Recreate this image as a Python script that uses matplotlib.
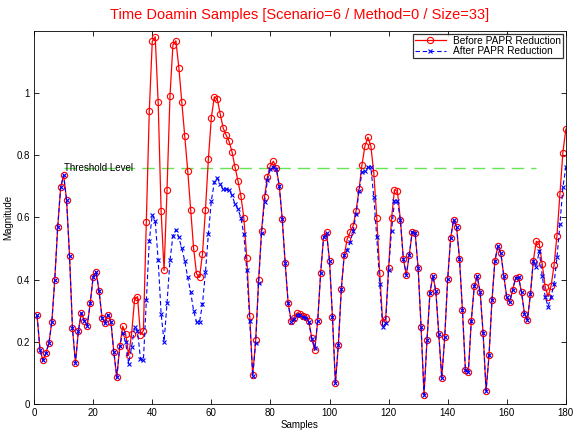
import matplotlib
matplotlib.use("Agg")
import matplotlib.pyplot as plt
from matplotlib.ticker import FuncFormatter

plt.rcParams['font.family'] = ['Liberation Sans', 'DejaVu Sans']

# sample magnitudes, samples 1..180
before = [
    0.285, 0.175, 0.140, 0.164, 0.195, 0.263, 0.400, 0.570, 0.696, 0.736,
    0.655, 0.475, 0.243, 0.132, 0.236, 0.292, 0.268, 0.252, 0.324, 0.409,
    0.425, 0.362, 0.277, 0.260, 0.287, 0.265, 0.166, 0.086, 0.185, 0.250,
    0.225, 0.156, 0.225, 0.334, 0.345, 0.223, 0.236, 0.584, 0.942, 1.165,
    1.180, 0.969, 0.619, 0.429, 0.688, 0.990, 1.154, 1.167, 1.081, 0.969,
    0.860, 0.750, 0.623, 0.500, 0.418, 0.407, 0.482, 0.623, 0.787, 0.920,
    0.987, 0.980, 0.932, 0.887, 0.864, 0.844, 0.810, 0.762, 0.717, 0.669,
    0.598, 0.468, 0.284, 0.092, 0.204, 0.398, 0.557, 0.666, 0.730, 0.766,
    0.780, 0.758, 0.701, 0.594, 0.452, 0.324, 0.268, 0.277, 0.292, 0.290,
    0.284, 0.281, 0.266, 0.212, 0.172, 0.266, 0.421, 0.536, 0.552, 0.461,
    0.279, 0.067, 0.191, 0.370, 0.480, 0.530, 0.552, 0.573, 0.621, 0.690,
    0.769, 0.829, 0.857, 0.829, 0.741, 0.598, 0.421, 0.263, 0.273, 0.436,
    0.597, 0.688, 0.683, 0.591, 0.466, 0.415, 0.479, 0.554, 0.548, 0.437,
    0.247, 0.030, 0.205, 0.358, 0.412, 0.362, 0.225, 0.084, 0.214, 0.401,
    0.533, 0.592, 0.570, 0.466, 0.302, 0.110, 0.103, 0.268, 0.378, 0.410,
    0.359, 0.227, 0.043, 0.156, 0.334, 0.461, 0.507, 0.484, 0.412, 0.343,
    0.327, 0.367, 0.405, 0.407, 0.359, 0.290, 0.270, 0.352, 0.461, 0.523,
    0.514, 0.450, 0.377, 0.345, 0.379, 0.445, 0.541, 0.675, 0.808, 0.883,
]

after = [
    0.285, 0.175, 0.140, 0.164, 0.195, 0.263, 0.400, 0.570, 0.696, 0.736,
    0.655, 0.475, 0.243, 0.132, 0.236, 0.292, 0.268, 0.252, 0.324, 0.409,
    0.425, 0.362, 0.277, 0.260, 0.287, 0.265, 0.166, 0.086, 0.185, 0.228,
    0.198, 0.130, 0.182, 0.247, 0.236, 0.146, 0.140, 0.335, 0.525, 0.608,
    0.589, 0.462, 0.290, 0.200, 0.325, 0.462, 0.540, 0.560, 0.535, 0.500,
    0.460, 0.407, 0.359, 0.300, 0.263, 0.263, 0.322, 0.423, 0.546, 0.653,
    0.712, 0.726, 0.707, 0.690, 0.690, 0.688, 0.670, 0.643, 0.627, 0.598,
    0.545, 0.430, 0.268, 0.090, 0.195, 0.390, 0.550, 0.648, 0.720, 0.755,
    0.762, 0.755, 0.700, 0.594, 0.452, 0.324, 0.265, 0.272, 0.287, 0.285,
    0.280, 0.277, 0.262, 0.210, 0.180, 0.266, 0.421, 0.536, 0.548, 0.461,
    0.279, 0.067, 0.191, 0.370, 0.480, 0.495, 0.519, 0.557, 0.610, 0.685,
    0.744, 0.750, 0.760, 0.760, 0.664, 0.535, 0.386, 0.247, 0.260, 0.430,
    0.557, 0.653, 0.653, 0.590, 0.466, 0.415, 0.479, 0.554, 0.548, 0.437,
    0.247, 0.030, 0.205, 0.358, 0.412, 0.362, 0.225, 0.084, 0.214, 0.401,
    0.533, 0.592, 0.570, 0.466, 0.302, 0.110, 0.103, 0.268, 0.378, 0.410,
    0.359, 0.227, 0.043, 0.156, 0.334, 0.461, 0.507, 0.484, 0.412, 0.343,
    0.327, 0.367, 0.405, 0.407, 0.359, 0.290, 0.270, 0.352, 0.461, 0.440,
    0.493, 0.412, 0.345, 0.313, 0.345, 0.386, 0.471, 0.578, 0.696, 0.760,
]

samples = list(range(1, len(before) + 1))

threshold = 0.757
threshold_start, threshold_end = 10, 170

fig = plt.figure(figsize=(5.73, 4.30), dpi=100)
ax = fig.add_axes([0.0595, 0.0605, 0.928, 0.8685])

ax.plot([threshold_start, threshold_end], [threshold, threshold],
        color='#66e655', linestyle=(0, (9, 5)), linewidth=1.0)
ax.text(threshold_start, threshold, 'Threshold Level', fontsize=7,
        va='center', ha='left')

ax.plot(samples, before, '-o', color='red', linewidth=0.9, markersize=4.5,
        markerfacecolor='none', markeredgewidth=0.8, label='Before PAPR Reduction')
ax.plot(samples, after, '--x', color='blue', linewidth=0.8, markersize=2.3,
        markeredgewidth=0.8, dashes=(4, 2.5), label='After PAPR Reduction')

ax.set_xlim(0, 180)
ax.set_ylim(0, 1.2)
ax.set_xticks(range(0, 181, 20))
ax.set_yticks([0, 0.2, 0.4, 0.6, 0.8, 1.0])
ax.yaxis.set_major_formatter(FuncFormatter(lambda v, p: f'{v:g}'))
ax.tick_params(direction='in', top=True, right=True, length=3.5, width=0.6,
               labelsize=7, pad=3)
for spine in ax.spines.values():
    spine.set_linewidth(0.6)

ax.set_xlabel('Samples', fontsize=7, labelpad=1)
ax.set_ylabel('Magnitude', fontsize=7, labelpad=2)
ax.set_title('Time Doamin Samples [Scenario=6 / Method=0 / Size=33]',
             color='red', fontsize=10.5, pad=8)

leg = ax.legend(loc='upper right', fontsize=7.3, frameon=True, fancybox=False,
                borderpad=0.2, labelspacing=0.05, handlelength=3.0,
                handletextpad=0.7, borderaxespad=0.3)
leg.get_frame().set_edgecolor('black')
leg.get_frame().set_linewidth(0.9)

fig.savefig('out.png', dpi=100)
